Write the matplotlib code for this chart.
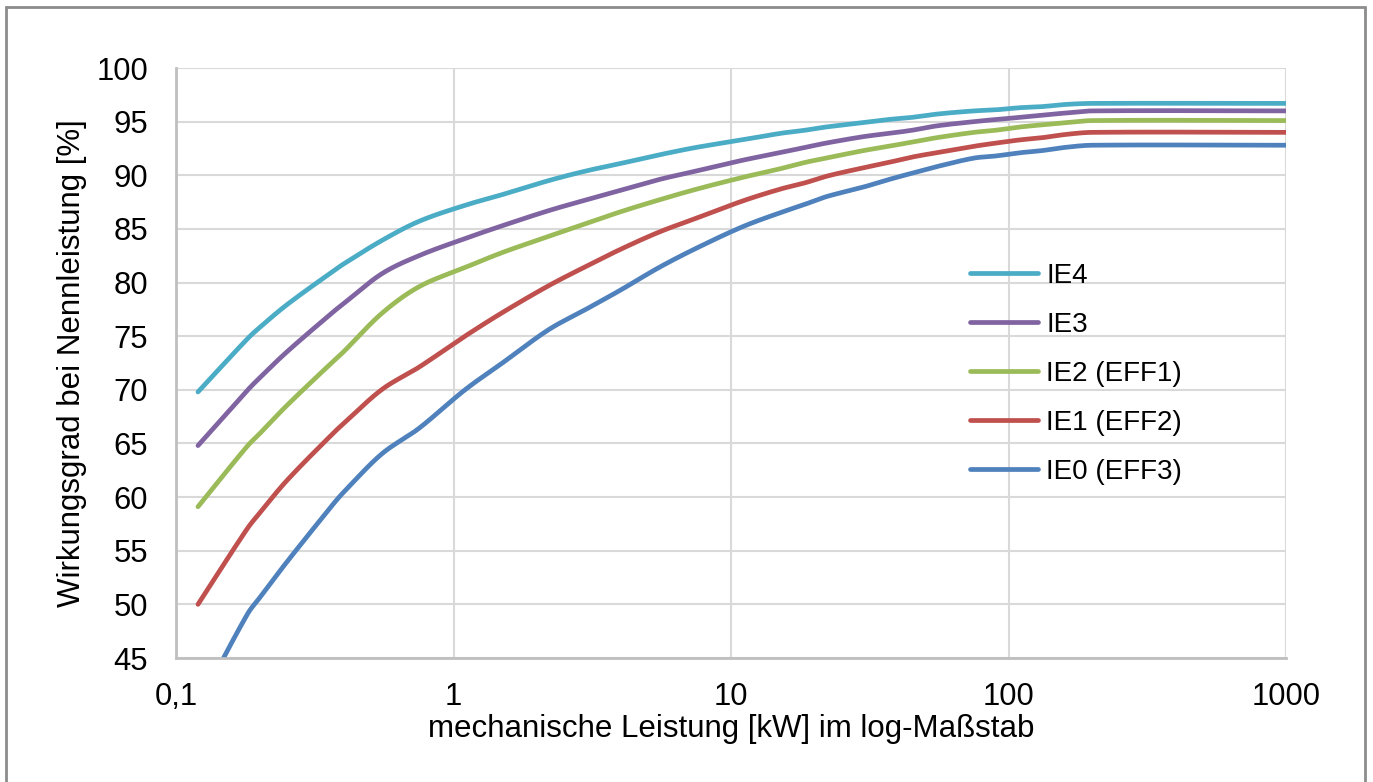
import matplotlib
matplotlib.use("Agg")
import matplotlib.pyplot as plt
import numpy as np
from matplotlib.patches import Rectangle

plt.rcParams['font.family'] = ['Liberation Sans', 'DejaVu Sans']

# rated power [kW]
power = [0.12, 0.18, 0.2, 0.25, 0.37, 0.4, 0.55, 0.75, 1.1, 1.5, 2.2, 3, 4, 5.5,
         7.5, 11, 15, 18.5, 22, 30, 37, 45, 55, 75, 90, 110, 132, 160, 200, 1000]

# efficiency [%]
ie4 = [69.8, 74.7, 75.8, 77.9, 81.1, 81.7, 83.9, 85.7, 87.2, 88.2, 89.5, 90.4, 91.1, 91.9,
       92.6, 93.3, 93.9, 94.2, 94.5, 94.9, 95.2, 95.4, 95.7, 96.0, 96.1, 96.3, 96.4, 96.6, 96.7, 96.7]
ie3 = [64.8, 69.9, 71.1, 73.5, 77.3, 78.0, 80.8, 82.5, 84.1, 85.3, 86.7, 87.7, 88.6, 89.6,
       90.4, 91.4, 92.1, 92.6, 93.0, 93.6, 93.9, 94.2, 94.6, 95.0, 95.2, 95.4, 95.6, 95.8, 96.0, 96.0]
ie2 = [59.1, 64.7, 65.9, 68.5, 72.7, 73.5, 77.1, 79.6, 81.4, 82.8, 84.3, 85.5, 86.6, 87.7,
       88.7, 89.8, 90.6, 91.2, 91.6, 92.3, 92.7, 93.1, 93.5, 94.0, 94.2, 94.5, 94.7, 94.9, 95.1, 95.1]
ie1 = [50.0, 57.0, 58.5, 61.5, 66.0, 66.8, 70.0, 72.1, 75.0, 77.2, 79.7, 81.5, 83.1, 84.7,
       86.0, 87.6, 88.7, 89.3, 89.9, 90.7, 91.2, 91.7, 92.1, 92.7, 93.0, 93.3, 93.5, 93.8, 94.0, 94.0]
ie0 = [40.5, 49.0, 50.6, 53.9, 59.4, 60.4, 64.0, 66.4, 70.0, 72.5, 75.6, 77.5, 79.3, 81.4,
       83.2, 85.2, 86.5, 87.3, 88.0, 88.9, 89.6, 90.2, 90.8, 91.6, 91.8, 92.1, 92.3, 92.6, 92.8, 92.8]

labels = ['IE4', 'IE3', 'IE2 (EFF1)', 'IE1 (EFF2)', 'IE0 (EFF3)']
colors = ['#4BACC6', '#8064A2', '#9BBB59', '#C0504D', '#4F81BD']

xticks = [0.1, 1, 10, 100, 1000]
xticklabels = ['0,1', '1', '10', '100', '1000']
yticks = list(range(45, 101, 5))


def smooth(x, y, n=40):
    # smoothed line: cubic Hermite in log-x with central-difference slopes
    lx = np.log10(x)
    y = np.asarray(y, dtype=float)
    m = np.zeros_like(y)
    m[1:-1] = (y[2:] - y[:-2]) / (lx[2:] - lx[:-2])
    m[0] = (y[1] - y[0]) / (lx[1] - lx[0])
    m[-1] = 0.0
    outx, outy = [], []
    t = np.linspace(0, 1, n)
    for i in range(len(lx) - 1):
        h = lx[i + 1] - lx[i]
        h00 = 2 * t ** 3 - 3 * t ** 2 + 1
        h10 = t ** 3 - 2 * t ** 2 + t
        h01 = -2 * t ** 3 + 3 * t ** 2
        h11 = t ** 3 - t ** 2
        outx.extend(lx[i] + t * h)
        outy.extend(h00 * y[i] + h10 * h * m[i] + h01 * y[i + 1] + h11 * h * m[i + 1])
    return 10 ** np.array(outx), np.array(outy)


fig = plt.figure(figsize=(13.73, 7.82), dpi=100)
ax = fig.add_axes([176 / 1373, 1 - 658 / 782, 1110 / 1373, 590 / 782])

for series, lab, col in zip([ie4, ie3, ie2, ie1, ie0], labels, colors):
    sx, sy = smooth(power, series)
    ax.plot(sx, sy, color=col, lw=3.4, label=lab, solid_capstyle='round')

ax.set_xscale('log')
ax.set_xlim(0.1, 1000)
ax.set_ylim(45, 100)
ax.set_xticks(xticks)
ax.set_xticklabels(xticklabels)
ax.xaxis.set_minor_locator(matplotlib.ticker.NullLocator())
ax.set_yticks(yticks)
ax.tick_params(axis='both', length=0, labelsize=22.3)
ax.tick_params(axis='x', pad=17)
ax.tick_params(axis='y', pad=20)
ax.grid(True, color='#d9d9d9', lw=1.5)
ax.set_axisbelow(True)
for side in ['top', 'right']:
    ax.spines[side].set_visible(False)
ax.spines['left'].set_color('#bfbfbf')
ax.spines['bottom'].set_color('#bfbfbf')
ax.spines['left'].set_linewidth(2)
ax.spines['bottom'].set_linewidth(2)

ax.set_xlabel('mechanische Leistung [kW] im log-Maßstab', fontsize=22.5, labelpad=2)
ax.set_ylabel('Wirkungsgrad bei Nennleistung [%]', fontsize=22.5, labelpad=7)

ax.legend(loc='upper left', bbox_to_anchor=(0.715, 0.67), frameon=False, fontsize=20,
          handlelength=2.45, handletextpad=0.3, labelspacing=0.83, borderpad=0,
          borderaxespad=0)

fig.patches.append(Rectangle((6 / 1373, -0.05), 1359 / 1373, 1.05 - 7 / 782,
                             transform=fig.transFigure, fill=False,
                             edgecolor='#8c8c8c', lw=2))

fig.savefig('out.png', dpi=100)
